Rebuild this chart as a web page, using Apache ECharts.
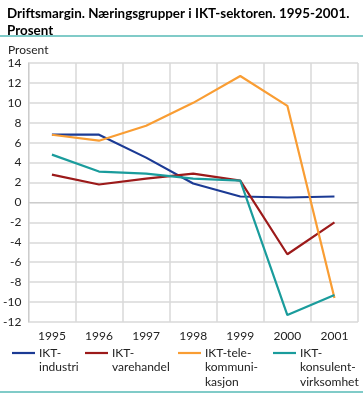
<!DOCTYPE html>
<html><head><meta charset="utf-8">
<script src="https://cdn.jsdelivr.net/npm/echarts@6/dist/echarts.min.js"></script>
<style>html,body{margin:0;padding:0;background:#fff}#c{width:363px;height:394px}</style>
</head><body><div id="c"></div>
<script>
var years = ['1995','1996','1997','1998','1999','2000','2001'];
var industri = [6.8, 6.8, 4.5, 1.9, 0.6, 0.5, 0.6];
var varehandel = [2.8, 1.8, 2.4, 2.9, 2.2, -5.2, -2.0];
var tele = [6.8, 6.2, 7.7, 10.0, 12.7, 9.7, -9.6];
var konsulent = [4.8, 3.1, 2.9, 2.4, 2.2, -11.3, -9.3];
var names = ['IKT-industri','IKT-varehandel','IKT-telekommunikasjon','IKT-konsulentvirksomhet'];
var legendText = ['\nIKT-\nindustri','\nIKT-\nvarehandel','\n\nIKT-tele-\nkommuni-\nkasjon','\n\nIKT-\nkonsulent-\nvirksomhet'];
var colors = ['#1b3a94','#9c1a1a','#f99d33','#1a9c9c'];
var FONT = 'Lato, sans-serif';
var chart = echarts.init(document.getElementById('c'), null, {renderer:'canvas'});
var lh = 14.5;
function leg(i, left) {
  var nLines = legendText[i].split('\n').length;
  return {
    data:[names[i]], left:left, top: 353 - nLines*lh/2, orient:'horizontal',
    itemWidth:23, itemHeight:10, itemGap:0, padding:0,
    icon:'path://M0,0 L23,0 L23,2.2 L0,2.2 Z',
    formatter:function(){return legendText[i];},
    textStyle:{fontFamily:FONT,fontSize:12,color:'#222',lineHeight:lh,padding:[0,0,0,-1]},
    selectedMode:false
  };
}
chart.setOption({
  animation:false,
  color:colors,
  title:[{text:'Driftsmargin. Næringsgrupper i IKT-sektoren. 1995-2001.\nProsent', left:2, top:0,
    textStyle:{fontFamily:FONT,fontSize:13.4,fontWeight:'bold',color:'#000',lineHeight:17}}],
  graphic:[
    {type:'rect',shape:{x:0,y:35,width:363,height:2},style:{fill:'#80cbc8'}},
    {type:'rect',shape:{x:0,y:391,width:363,height:2},style:{fill:'#80cbc8'}},
    {type:'text',left:8,top:44,style:{text:'Prosent',font:'12px Lato, sans-serif',fill:'#222'}}
  ],
  legend:[leg(0,12),leg(1,85),leg(2,178),leg(3,273)],
  grid:{left:26,right:5,top:63,bottom:72,containLabel:false},
  xAxis:{type:'category',data:years,boundaryGap:true,
    axisLine:{show:true,lineStyle:{color:'#cccccc',width:1}},
    axisTick:{show:false},
    splitLine:{show:true,interval:0,lineStyle:{color:'#d9d9d9',width:1.5}},
    axisLabel:{interval:0,fontFamily:FONT,fontSize:12,color:'#222',margin:8}},
  yAxis:{type:'value',min:-12,max:14,interval:2,
    axisLine:{show:true,lineStyle:{color:'#cccccc',width:1}},
    axisTick:{show:false},
    splitLine:{show:true,lineStyle:{color:'#d9d9d9',width:1.5}},
    axisLabel:{fontFamily:FONT,fontSize:12,color:'#222',margin:7}},
  series:[
    {name:names[0],type:'line',data:industri,symbol:'none',lineStyle:{width:2.2,color:colors[0]}},
    {name:names[1],type:'line',data:varehandel,symbol:'none',lineStyle:{width:2.2,color:colors[1]}},
    {name:names[2],type:'line',data:tele,symbol:'none',lineStyle:{width:2.2,color:colors[2]}},
    {name:names[3],type:'line',data:konsulent,symbol:'none',lineStyle:{width:2.2,color:colors[3]}}
  ]
});
</script></body></html>
